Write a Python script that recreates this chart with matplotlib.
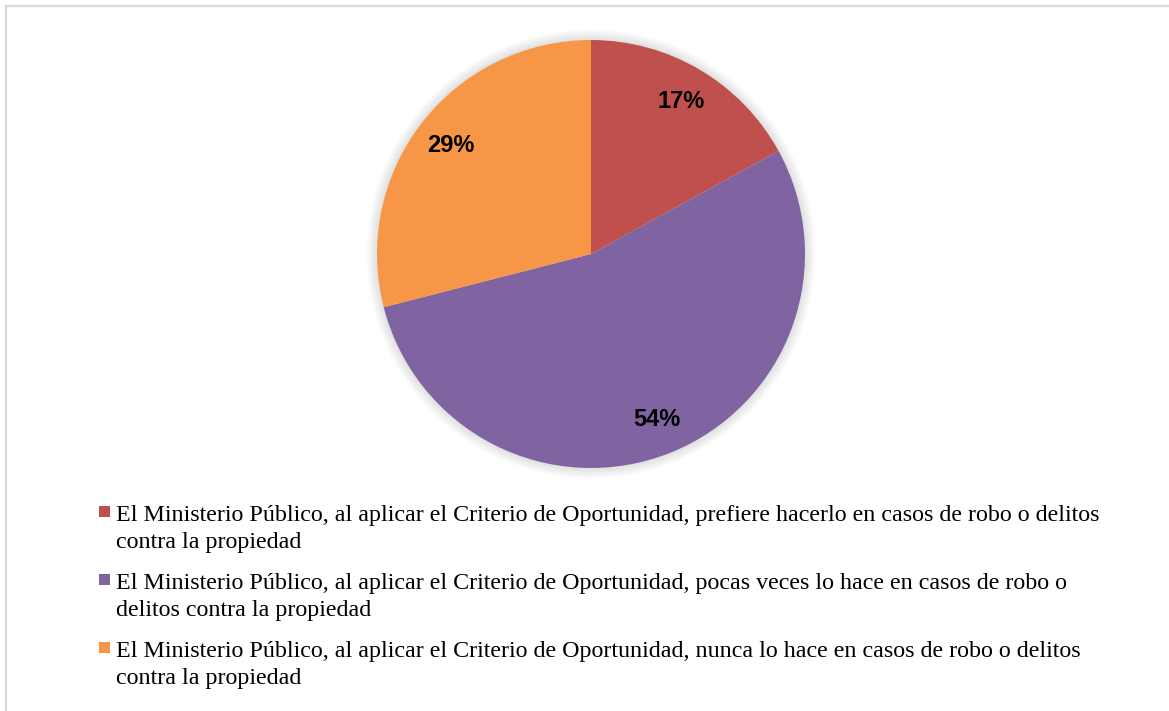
import matplotlib
matplotlib.use("Agg")
import matplotlib.pyplot as plt
from matplotlib.patches import Rectangle, Circle
from matplotlib.lines import Line2D

categories = [
    "El Ministerio Público, al aplicar el Criterio de Oportunidad, prefiere hacerlo en casos de robo o delitos\ncontra la propiedad",
    "El Ministerio Público, al aplicar el Criterio de Oportunidad, pocas veces lo hace en casos de robo o\ndelitos contra la propiedad",
    "El Ministerio Público, al aplicar el Criterio de Oportunidad, nunca lo hace en casos de robo o delitos\ncontra la propiedad",
]
values = [17, 54, 29]
colors = ["#C0504D", "#8064A2", "#F79646"]

W, H = 1169, 711
fig = plt.figure(figsize=(W / 100, H / 100), dpi=100)
fig.patch.set_facecolor("white")

# border (top and left visible)
fig.add_artist(Line2D([5.5 / W, 1168 / W], [1 - 5.5 / H, 1 - 5.5 / H],
                      transform=fig.transFigure, color="#D9D9D9", lw=1.6))
fig.add_artist(Line2D([5.5 / W, 5.5 / W], [0, 1 - 5.5 / H],
                      transform=fig.transFigure, color="#D9D9D9", lw=1.6))

cx, cy, r = 591, 254, 214
ax = fig.add_axes([(cx - r) / W, (H - cy - r) / H, 2 * r / W, 2 * r / H])

wedges, texts, autotexts = ax.pie(
    values, colors=colors, startangle=90, counterclock=False,
    autopct=lambda p: f"{p:.0f}%", pctdistance=0.83, radius=1.0,
    wedgeprops=dict(linewidth=0),
    textprops=dict(fontsize=17, fontweight="bold", family="Liberation Sans", color="black"),
)
ax.set_xlim(-1, 1)
ax.set_ylim(-1, 1)
ax.set_aspect("equal")
ax.axis("off")

# soft glow around the pie
for i in range(10):
    ax.add_patch(Circle((0, 0), 1.0 + 0.005 * (i + 1), color="#000000",
                        alpha=0.012, lw=0, zorder=0, clip_on=False))
for w in wedges:
    w.set_zorder(2)
for t in autotexts:
    t.set_zorder(3)

# legend drawn manually (marker aligned with first line)
base_y = [522, 590, 658]
line_gap = 26
for lab, col, by in zip(categories, colors, base_y):
    fig.add_artist(Rectangle((99 / W, 1 - (by - 5) / H), 11 / W, 11 / H,
                             transform=fig.transFigure, facecolor=col, edgecolor="none"))
    fig.text(116 / W, 1 - (by + line_gap) / H, lab, ha="left", va="baseline",
             fontsize=17.3, family="Liberation Serif", color="black",
             linespacing=1.35)

fig.savefig("out.png", dpi=100, facecolor="white")
